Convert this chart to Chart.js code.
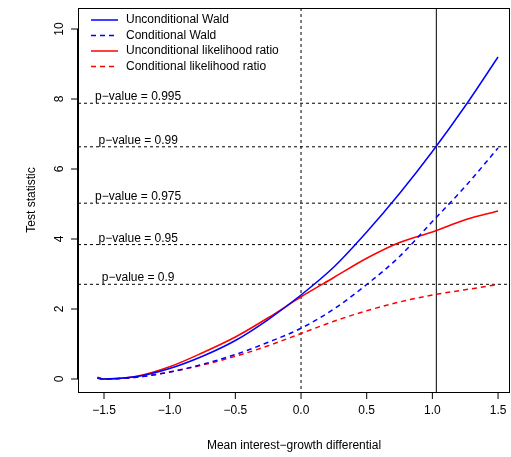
<!DOCTYPE html>
<html>
<head>
<meta charset="UTF-8">
<script src="https://cdn.jsdelivr.net/npm/chart.js"></script>
<style>body{margin:0;background:#fff}</style>
</head>
<body>
<canvas id="grafico" width="511" height="457"></canvas>
<script>
const xs = [-1.55, -1.5, -1.25, -1.0, -0.75, -0.5, -0.25, 0, 0.25, 0.5, 0.75, 1.0, 1.25, 1.5];
const waldUncond = [0.03, 0.0, 0.07, 0.3, 0.65, 1.1, 1.7, 2.4, 3.2, 4.2, 5.3, 6.5, 7.8, 9.2];
const waldCond = [0.02, 0.0, 0.05, 0.2, 0.42, 0.7, 1.05, 1.45, 2.0, 2.7, 3.5, 4.5, 5.5, 6.6];
const lrUncond = [0.05, 0.0, 0.08, 0.35, 0.75, 1.2, 1.75, 2.35, 2.9, 3.45, 3.9, 4.2, 4.55, 4.8];
const lrCond = [0.02, 0.0, 0.05, 0.2, 0.4, 0.65, 0.95, 1.3, 1.65, 1.95, 2.2, 2.4, 2.55, 2.7];
const pLevels = ['0.9', '0.95', '0.975', '0.99', '0.995'];
const critical = [2.706, 3.841, 5.024, 6.635, 7.879];
const xTicks = [-1.5, -1.0, -0.5, 0.0, 0.5, 1.0, 1.5];
const yTicks = [0, 2, 4, 6, 8, 10];
const labels = ['Unconditional Wald', 'Conditional Wald', 'Unconditional likelihood ratio', 'Conditional likelihood ratio'];
const couleurs = ['#0000ff', '#0000ff', '#ff0000', '#ff0000'];
const tratti = [[], [5, 4], [], [5, 4]];
const serie = [waldUncond, waldCond, lrUncond, lrCond];
const FONT = '12px "Liberation Sans", Arial, sans-serif';

const datasets = serie.map((s, i) => ({
  label: labels[i],
  data: xs.map((x, j) => ({x, y: s[j]})),
  borderColor: couleurs[i], borderDash: tratti[i], borderWidth: 1.5,
  pointRadius: 0, showLine: true, fill: false, cubicInterpolationMode: 'monotone'
}));

const disegno = {
  id: 'disegno',
  beforeDatasetsDraw(c) {
    const ctx = c.ctx, X = c.scales.x, Y = c.scales.y, a = c.chartArea;
    ctx.save();
    ctx.lineWidth = 1; ctx.strokeStyle = '#000'; ctx.setLineDash([3, 3]);
    critical.forEach(v => { const y = Y.getPixelForValue(v); ctx.beginPath(); ctx.moveTo(a.left, y); ctx.lineTo(a.right, y); ctx.stroke(); });
    let x0 = X.getPixelForValue(0);
    ctx.beginPath(); ctx.moveTo(x0, a.top); ctx.lineTo(x0, a.bottom); ctx.stroke();
    ctx.setLineDash([]);
    let x1 = X.getPixelForValue(1.03);
    ctx.beginPath(); ctx.moveTo(x1, a.top); ctx.lineTo(x1, a.bottom); ctx.stroke();
    ctx.fillStyle = '#000'; ctx.font = FONT; ctx.textAlign = 'center'; ctx.textBaseline = 'alphabetic';
    critical.forEach((v, i) => ctx.fillText('p\u2212value = ' + pLevels[i], X.getPixelForValue(-1.24), Y.getPixelForValue(v) - 3));
    ctx.restore();
  },
  afterDraw(c) {
    const ctx = c.ctx, X = c.scales.x, Y = c.scales.y, a = c.chartArea;
    ctx.save();
    ctx.strokeStyle = '#000'; ctx.lineWidth = 1; ctx.fillStyle = '#000'; ctx.font = FONT;
    ctx.strokeRect(a.left + 0.5, a.top + 0.5, a.right - a.left - 1, a.bottom - a.top);
    // asse x
    const xa = X.getPixelForValue(xTicks[0]), xb = X.getPixelForValue(xTicks[xTicks.length - 1]);
    ctx.beginPath(); ctx.moveTo(xa, a.bottom + 0.5); ctx.lineTo(xb, a.bottom + 0.5); ctx.stroke();
    ctx.textAlign = 'center'; ctx.textBaseline = 'top';
    xTicks.forEach(t => { const p = X.getPixelForValue(t); ctx.beginPath(); ctx.moveTo(p, a.bottom); ctx.lineTo(p, a.bottom + 7); ctx.stroke();
      ctx.fillText((t < 0 ? '\u2212' : '') + Math.abs(t).toFixed(1), p, a.bottom + 13); });
    // asse y
    const ya = Y.getPixelForValue(0), yb = Y.getPixelForValue(10);
    ctx.beginPath(); ctx.moveTo(a.left - 0.5, ya); ctx.lineTo(a.left - 0.5, yb); ctx.stroke();
    yTicks.forEach(t => { const p = Y.getPixelForValue(t); ctx.beginPath(); ctx.moveTo(a.left, p); ctx.lineTo(a.left - 7, p); ctx.stroke();
      ctx.save(); ctx.translate(a.left - 12, p); ctx.rotate(-Math.PI / 2); ctx.textAlign = 'center'; ctx.textBaseline = 'bottom'; ctx.fillText(String(t), 0, 0); ctx.restore(); });
    ctx.textAlign = 'center'; ctx.textBaseline = 'middle';
    ctx.fillText('Mean interest\u2212growth differential', (a.left + a.right) / 2, 446);
    ctx.save(); ctx.translate(32, (a.top + a.bottom) / 2); ctx.rotate(-Math.PI / 2); ctx.fillText('Test statistic', 0, 0); ctx.restore();
    // legenda
    ctx.textAlign = 'left'; ctx.textBaseline = 'middle'; ctx.fillStyle = '#000';
    labels.forEach((l, i) => { const y = a.top + 12 + i * 15.5;
      ctx.strokeStyle = couleurs[i]; ctx.lineWidth = 1.5; ctx.setLineDash(tratti[i]);
      ctx.beginPath(); ctx.moveTo(a.left + 13, y); ctx.lineTo(a.left + 40, y); ctx.stroke();
      ctx.setLineDash([]); ctx.fillText(l, a.left + 48, y); });
    ctx.restore();
  }
};

new Chart(document.getElementById('grafico'), {
  type: 'scatter',
  data: {datasets},
  options: {
    responsive: false, animation: false,
    layout: {padding: {left: 78, right: 1, top: 8, bottom: 65}},
    plugins: {legend: {display: false}, tooltip: {enabled: false}},
    scales: {
      x: {type: 'linear', min: -1.698, max: 1.591, display: false},
      y: {type: 'linear', min: -0.371, max: 10.6, display: false}
    }
  },
  plugins: [disegno]
});
</script>
</body>
</html>
